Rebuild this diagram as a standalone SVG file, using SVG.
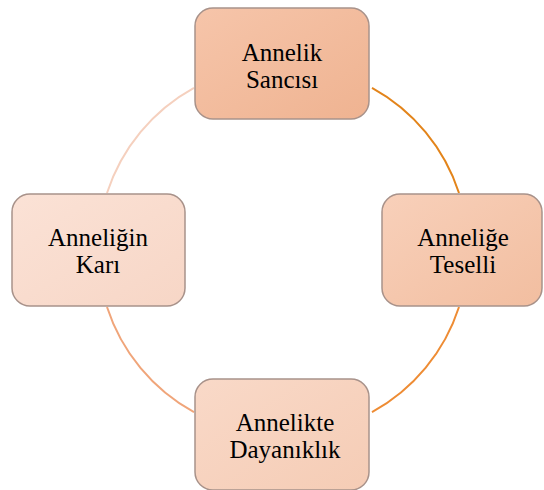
<svg xmlns="http://www.w3.org/2000/svg" width="544" height="490" viewBox="0 0 544 490">
<defs>
<linearGradient id="g1" x1="0" y1="0" x2="1" y2="1"><stop offset="0" stop-color="#F6C5AA"/><stop offset="1" stop-color="#EFB391"/></linearGradient>
<linearGradient id="g2" x1="0" y1="0" x2="1" y2="1"><stop offset="0" stop-color="#F8D0BA"/><stop offset="1" stop-color="#F2BEA0"/></linearGradient>
<linearGradient id="g3" x1="0" y1="0" x2="1" y2="1"><stop offset="0" stop-color="#F9D9C8"/><stop offset="1" stop-color="#F5CCB5"/></linearGradient>
<linearGradient id="g4" x1="0" y1="0" x2="1" y2="1"><stop offset="0" stop-color="#FBE2D6"/><stop offset="1" stop-color="#F7D6C6"/></linearGradient>
</defs>
<style>
.box{stroke:#A8928A;stroke-width:1.5}
.t{font-family:"Liberation Serif","Times New Roman",serif;font-size:25px;fill:#000;text-anchor:middle}
.arc{fill:none;stroke-width:2}
</style>
<rect width="544" height="490" fill="#fff"/>
<g id="connectors">
<path class="arc" stroke="#E3841A" d="M372,87.8 A185,185 0 0 1 459,193"/>
<path class="arc" stroke="#EE8C34" d="M459,307 A185,185 0 0 1 372,412.2"/>
<path class="arc" stroke="#F0A57A" d="M194,412.2 A185,185 0 0 1 107,307"/>
<path class="arc" stroke="#F5D0BE" d="M107,193 A185,185 0 0 1 194,87.8"/>
</g>
<g id="n1">
<rect class="box" x="195" y="8" width="174" height="111" rx="18" fill="url(#g1)"/>
<text class="t" x="282" y="61">Annelik</text>
<text class="t" x="282" y="88">Sancısı</text>
</g>
<g id="n2">
<rect class="box" x="382" y="194" width="160" height="112" rx="18" fill="url(#g2)"/>
<text class="t" x="463" y="246">Anneliğe</text>
<text class="t" x="463" y="273">Teselli</text>
</g>
<g id="n3">
<rect class="box" x="195" y="379" width="174" height="111" rx="18" fill="url(#g3)"/>
<text class="t" x="285" y="431">Annelikte</text>
<text class="t" x="285" y="458">Dayanıklık</text>
</g>
<g id="n4">
<rect class="box" x="12" y="194" width="173" height="112" rx="18" fill="url(#g4)"/>
<text class="t" x="98" y="246">Anneliğin</text>
<text class="t" x="98" y="273">Karı</text>
</g>
</svg>
